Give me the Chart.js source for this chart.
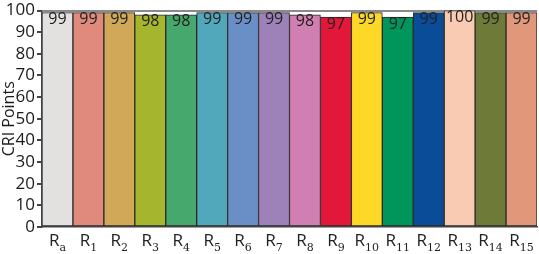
<!DOCTYPE html>
<html>
<head>
<meta charset="utf-8">
<script src="https://cdn.jsdelivr.net/npm/chart.js@4"></script>
<style>
  html, body { margin: 0; padding: 0; background: #fff; }
  #wrap { width: 539px; height: 254px; }
</style>
</head>
<body>
<div id="wrap"><canvas id="c"></canvas></div>
<script>
var categories = ['Ra', 'R1', 'R2', 'R3', 'R4', 'R5', 'R6', 'R7', 'R8', 'R9', 'R10', 'R11', 'R12', 'R13', 'R14', 'R15'];
var values = [99, 99, 99, 98, 98, 99, 99, 99, 98, 97, 99, 97, 99, 100, 99, 99];
var colors = ['#e3e1e0', '#e08a7e', '#d1a857', '#a5b52e', '#46a86c', '#52a8bb', '#6a8fc7', '#9d82b9',
              '#d07fb3', '#e2173a', '#fdd826', '#00955a', '#0b4c99', '#f8cbb2', '#6e7b38', '#e0977a'];
var yTicks = [0, 10, 20, 30, 40, 50, 60, 70, 80, 90, 100];

var FONT = '"Open Sans", "DejaVu Sans", sans-serif';

// value labels inside the top of each bar + subscripted category labels
var labelPlugin = {
    id: 'labelPlugin',
    afterDatasetsDraw: function(chart) {
        var ctx = chart.ctx;
        var meta = chart.getDatasetMeta(0);
        ctx.save();
        ctx.fillStyle = '#222';
        ctx.font = '16px ' + FONT;
        ctx.textAlign = 'center';
        ctx.textBaseline = 'top';
        meta.data.forEach(function(bar, i) {
            ctx.fillText(String(values[i]), bar.x, bar.y - 1);
        });
        var xs = chart.scales.x;
        var base = xs.bottom - 8;
        categories.forEach(function(lab, i) {
            var x = xs.getPixelForValue(i);
            var main = lab.charAt(0), sub = lab.slice(1);
            ctx.font = '17px ' + FONT;
            var w1 = ctx.measureText(main).width;
            ctx.font = '11px "DejaVu Serif", "Liberation Serif", serif';
            var w2 = ctx.measureText(sub).width;
            var left = x - (w1 + w2) / 2;
            ctx.textAlign = 'left';
            ctx.textBaseline = 'alphabetic';
            ctx.font = '17px ' + FONT;
            ctx.fillText(main, left, base);
            ctx.font = '11px "DejaVu Serif", "Liberation Serif", serif';
            ctx.fillText(sub, left + w1, base + 5);
        });
        ctx.restore();
    }
};

new Chart(document.getElementById('c'), {
    type: 'bar',
    data: {
        labels: categories,
        datasets: [{
            data: values,
            backgroundColor: colors,
            borderColor: '#2a2a2a',
            borderWidth: 1,
            borderSkipped: false,
            barPercentage: 1,
            categoryPercentage: 1
        }]
    },
    options: {
        responsive: true,
        maintainAspectRatio: false,
        animation: false,
        layout: { padding: { top: 0, right: 2 } },
        plugins: { legend: { display: false }, tooltip: { enabled: false } },
        scales: {
            x: {
                grid: { display: false },
                border: { color: '#444', width: 1.5 },
                ticks: { callback: function() { return ''; } },
                afterFit: function(s) { s.height = 27; }
            },
            y: {
                min: 0,
                max: 100,
                afterBuildTicks: function(s) { s.ticks = yTicks.map(function(v) { return { value: v }; }); },
                grid: {
                    color: function(c) { return c.tick && c.tick.value === 100 ? '#8a8a8a' : 'rgba(0,0,0,0)'; },
                    lineWidth: 2,
                    tickColor: '#444',
                    tickLength: 5
                },
                border: { color: '#444', width: 1.5 },
                ticks: { color: '#1a1a1a', font: { family: FONT, size: 17, lineHeight: 1 }, padding: 2, autoSkip: false },
                title: { display: true, text: 'CRI Points', color: '#1a1a1a', font: { family: FONT, size: 16 }, padding: 0 },
                afterFit: function(s) { s.width = 42; }
            }
        }
    },
    plugins: [labelPlugin]
});
</script>
</body>
</html>
